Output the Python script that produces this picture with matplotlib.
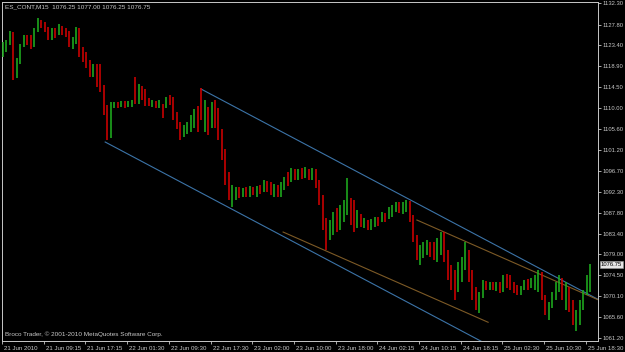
import matplotlib
matplotlib.use("Agg")
import matplotlib.pyplot as plt
import matplotlib.transforms as mtransforms

# ---------------- data ----------------
symbol = "ES_CONT,M15"
last_ohlc = ["1076.25", "1077.00", "1076.25", "1076.75"]
last_price = 1076.75
copyright_text = "Broco Trader, \u00a9 2001-2010 MetaQuotes Software Corp."

first_open = 1121.25
highs = [
    1124.0, 1124.5, 1126.5, 1126.25, 1120.75, 1123.75, 1125.5, 1125.5, 1125.5, 1127.0,
    1129.25, 1128.75, 1128.25, 1127.25, 1127.0, 1127.0, 1128.0, 1127.5, 1127.0, 1126.5,
    1125.25, 1127.25, 1127.0, 1123.0, 1122.0, 1120.25, 1119.5, 1119.5, 1119.5, 1115.0,
    1110.75, 1111.25, 1111.25, 1111.25, 1111.5, 1111.5, 1111.5, 1111.75, 1116.75, 1115.25,
    1114.75, 1114.0, 1112.25, 1111.75, 1111.5, 1111.75, 1111.0, 1112.5, 1112.75, 1112.5,
    1109.25, 1107.0, 1106.5, 1107.0, 1108.5, 1109.75, 1110.5, 1114.25, 1111.75, 1110.25,
    1111.25, 1111.75, 1110.0, 1105.5, 1101.25, 1096.5, 1093.75, 1093.25, 1093.25, 1093.0,
    1093.25, 1093.5, 1093.25, 1093.5, 1093.75, 1094.75, 1094.5, 1094.25, 1094.0, 1093.75,
    1094.25, 1095.5, 1096.5, 1097.25, 1097.0, 1097.0, 1097.25, 1097.5, 1097.0, 1097.25,
    1097.0, 1094.75, 1091.5, 1086.75, 1086.25, 1088.0, 1088.75, 1089.5, 1090.5, 1095.25,
    1091.0, 1090.5, 1088.5, 1087.5, 1086.75, 1086.25, 1086.5, 1087.0, 1087.0, 1088.0,
    1087.75, 1089.0, 1089.5, 1090.0, 1090.0, 1090.0, 1090.5, 1090.25, 1087.25, 1083.0,
    1081.0, 1081.5, 1082.0, 1081.5, 1081.5, 1082.5, 1083.75, 1083.75, 1080.0, 1076.75,
    1075.75, 1077.25, 1078.5, 1081.5, 1080.0, 1075.75, 1072.0, 1071.0, 1073.5, 1073.25,
    1073.0, 1073.0, 1073.0, 1073.0, 1074.5, 1074.75, 1074.5, 1073.0, 1072.5, 1072.25,
    1073.5, 1073.75, 1074.0, 1074.5, 1075.75, 1075.25, 1070.25, 1068.75, 1071.0, 1073.0,
    1074.5, 1074.0, 1073.0, 1072.0, 1069.25, 1067.25, 1069.25, 1071.5, 1074.5, 1077.0,
]
lows = [
    1121.0, 1122.0, 1123.5, 1116.0, 1116.5, 1119.5, 1123.0, 1123.5, 1122.5, 1123.0,
    1126.25, 1127.0, 1126.25, 1124.5, 1124.5, 1125.0, 1125.5, 1125.5, 1125.25, 1123.0,
    1122.5, 1123.75, 1121.0, 1119.75, 1118.5, 1116.75, 1116.75, 1114.5, 1113.5, 1108.5,
    1103.25, 1103.75, 1110.0, 1110.0, 1110.25, 1110.0, 1110.25, 1110.25, 1111.0, 1111.0,
    1111.75, 1110.5, 1110.5, 1110.25, 1110.0, 1110.0, 1108.0, 1110.0, 1110.75, 1107.5,
    1105.5, 1103.25, 1104.0, 1104.5, 1105.0, 1105.75, 1105.0, 1107.5, 1105.0, 1104.25,
    1105.75, 1105.75, 1103.25, 1099.0, 1093.75, 1090.5, 1089.0, 1090.5, 1091.0, 1091.25,
    1091.25, 1091.25, 1091.5, 1091.25, 1091.75, 1092.25, 1092.25, 1091.5, 1091.25, 1091.25,
    1091.25, 1092.75, 1093.5, 1094.25, 1094.75, 1094.75, 1095.0, 1095.25, 1094.75, 1094.75,
    1093.0, 1089.5, 1084.25, 1080.0, 1082.0, 1083.0, 1083.75, 1084.25, 1085.75, 1087.25,
    1085.25, 1083.75, 1084.5, 1084.75, 1084.5, 1084.25, 1084.25, 1084.75, 1085.0, 1085.75,
    1085.75, 1086.5, 1087.0, 1088.0, 1087.75, 1087.5, 1088.0, 1085.75, 1081.5, 1077.75,
    1076.75, 1078.25, 1078.75, 1078.5, 1077.75, 1077.25, 1078.75, 1077.25, 1073.5, 1071.5,
    1069.25, 1071.0, 1073.0, 1075.75, 1073.0, 1069.25, 1067.25, 1066.5, 1069.75, 1071.5,
    1071.5, 1071.5, 1071.25, 1070.75, 1071.0, 1071.75, 1071.5, 1070.75, 1070.25, 1070.25,
    1071.5, 1071.5, 1071.75, 1071.5, 1071.0, 1069.25, 1066.0, 1065.0, 1067.5, 1069.25,
    1071.0, 1069.25, 1067.25, 1066.75, 1064.0, 1062.75, 1064.0, 1067.25, 1070.25, 1071.0,
]
closes = [
    1123.5, 1123.75, 1126.25, 1117.75, 1119.75, 1123.25, 1125.0, 1124.0, 1123.0, 1126.5,
    1128.25, 1128.0, 1126.75, 1125.5, 1126.5, 1125.75, 1127.25, 1126.5, 1126.0, 1123.75,
    1124.5, 1126.5, 1122.5, 1121.0, 1119.5, 1117.75, 1119.0, 1118.5, 1114.25, 1109.75,
    1104.25, 1110.5, 1111.0, 1110.75, 1111.0, 1110.75, 1111.0, 1111.25, 1111.0, 1114.25,
    1113.25, 1111.75, 1111.0, 1111.25, 1110.75, 1111.0, 1110.5, 1112.25, 1112.0, 1108.5,
    1106.25, 1104.0, 1105.75, 1106.25, 1107.5, 1108.75, 1108.0, 1107.75, 1109.25, 1106.0,
    1110.0, 1108.5, 1104.25, 1100.0, 1094.75, 1091.25, 1092.25, 1092.75, 1092.0, 1092.5,
    1091.75, 1092.75, 1092.5, 1093.0, 1092.75, 1094.25, 1093.25, 1092.75, 1093.25, 1092.0,
    1093.75, 1095.0, 1094.25, 1096.75, 1095.5, 1096.25, 1095.75, 1096.75, 1095.5, 1096.5,
    1093.75, 1090.5, 1085.25, 1083.75, 1085.5, 1086.75, 1085.0, 1088.0, 1089.25, 1090.0,
    1087.5, 1085.75, 1087.25, 1085.5, 1085.75, 1085.0, 1085.75, 1086.25, 1085.75, 1087.25,
    1086.75, 1088.5, 1088.75, 1089.25, 1088.5, 1089.5, 1090.0, 1086.75, 1082.5, 1078.75,
    1080.0, 1080.75, 1081.25, 1080.0, 1078.75, 1081.5, 1083.0, 1078.25, 1074.5, 1073.0,
    1071.5, 1075.75, 1077.25, 1080.0, 1074.5, 1070.25, 1069.25, 1070.25, 1072.75, 1072.25,
    1072.75, 1072.0, 1072.5, 1071.5, 1073.75, 1073.5, 1072.5, 1071.5, 1071.0, 1071.5,
    1073.0, 1072.5, 1073.25, 1073.75, 1074.75, 1070.25, 1067.25, 1068.0, 1070.25, 1072.25,
    1073.5, 1070.25, 1071.75, 1068.25, 1065.5, 1066.0, 1068.25, 1070.75, 1074.0, 1076.75,
]

x_labels = ["21 Jun 2010", "21 Jun 09:15", "21 Jun 17:15", "22 Jun 01:30", "22 Jun 09:30",
            "22 Jun 17:30", "23 Jun 02:00", "23 Jun 10:00", "23 Jun 18:00", "24 Jun 02:15",
            "24 Jun 10:15", "24 Jun 18:15", "25 Jun 02:30", "25 Jun 10:30", "25 Jun 18:30"]
bars_per_label = 12

y_ticks = [1132.30, 1127.80, 1123.40, 1118.90, 1114.50, 1110.00, 1105.60, 1101.20,
           1096.70, 1092.30, 1087.80, 1083.40, 1079.00, 1074.50, 1070.10, 1065.60, 1061.20]

# trend lines: two anchor points (bar index, price); ray = extends to the right edge
channel_upper = [(56.98, 1114.10), (120.0, 1089.45)]
channel_lower = [(29.40, 1102.84), (120.0, 1067.40)]
inner_upper = [(119.1, 1086.27), (160.0, 1072.98)]
inner_lower = [(80.6, 1083.72), (139.6, 1064.55)]

# ---------------- style ----------------
BG = "black"
FG = "#c8c8c8"
UP = "#1fae1f"
DOWN = "#d10000"
BLUE = "#3c74a8"
BROWN = "#7d5a26"
FONT = "Liberation Sans"

W, H = 625, 352
fig = plt.figure(figsize=(W / 100, H / 100), dpi=100, facecolor=BG)
ax = fig.add_axes([2 / W, 11 / H, 596 / W, 339 / H], facecolor=BG)

n = len(closes)
xs = list(range(n))
opens = [first_open] + closes[:-1]
colors = [UP if c >= o else DOWN for o, c in zip(opens, closes)]
ax.vlines(xs, lows, highs, colors=colors, linewidth=1.15, zorder=3)

xmin, xmax = -0.29, 171.22
ymin, ymax = 1060.57, 1132.58
ax.set_xlim(xmin, xmax)
ax.set_ylim(ymin, ymax)


def draw_line(pts, color, ray):
    (x0, y0), (x1, y1) = pts
    if ray:
        slope = (y1 - y0) / (x1 - x0)
        x1, y1 = xmax, y0 + slope * (xmax - x0)
    ax.plot([x0, x1], [y0, y1], color=color, lw=0.8, zorder=2, clip_on=True)


draw_line(channel_upper, BLUE, True)
draw_line(channel_lower, BLUE, True)
draw_line(inner_upper, BROWN, True)
draw_line(inner_lower, BROWN, False)

for s in ax.spines.values():
    s.set_color(FG)
    s.set_linewidth(0.7)

ax.yaxis.tick_right()
ax.set_yticks(y_ticks)
ax.set_yticklabels([f"{v:.2f}" for v in y_ticks], fontsize=4.2, color=FG, family=FONT)
ax.tick_params(axis="y", direction="out", length=2.5, width=0.6, color=FG, pad=1.0)

xt = [k * bars_per_label - 0.29 for k in range(len(x_labels))]
ax.set_xticks(xt)
ax.set_xticklabels(x_labels, fontsize=4.4, color=FG, family=FONT, ha="left")
ax.tick_params(axis="x", direction="out", length=2.5, width=0.6, color=FG, pad=1.0)
off = mtransforms.ScaledTranslation(2 / 100, 0, fig.dpi_scale_trans)
for lab in ax.get_xticklabels():
    lab.set_transform(lab.get_transform() + off)

# current price marker
trans = mtransforms.blended_transform_factory(ax.transAxes, ax.transData)
ax.text(1.005, last_price, f"{last_price:.2f}", transform=trans, ha="left", va="center",
        fontsize=4.2, color="black", family=FONT, zorder=6, clip_on=False,
        bbox=dict(boxstyle="square,pad=0.2", fc="#e6e6e6", ec="#9a9a9a", lw=0.4))

ax.text(0.005, 0.993, f"{symbol}  " + " ".join(last_ohlc), transform=ax.transAxes,
        ha="left", va="top", fontsize=4.6, color=FG, family=FONT)
ax.text(0.005, 0.012, copyright_text, transform=ax.transAxes,
        ha="left", va="bottom", fontsize=4.6, color=FG, family=FONT)

fig.savefig("out.png", dpi=100, facecolor=BG)
